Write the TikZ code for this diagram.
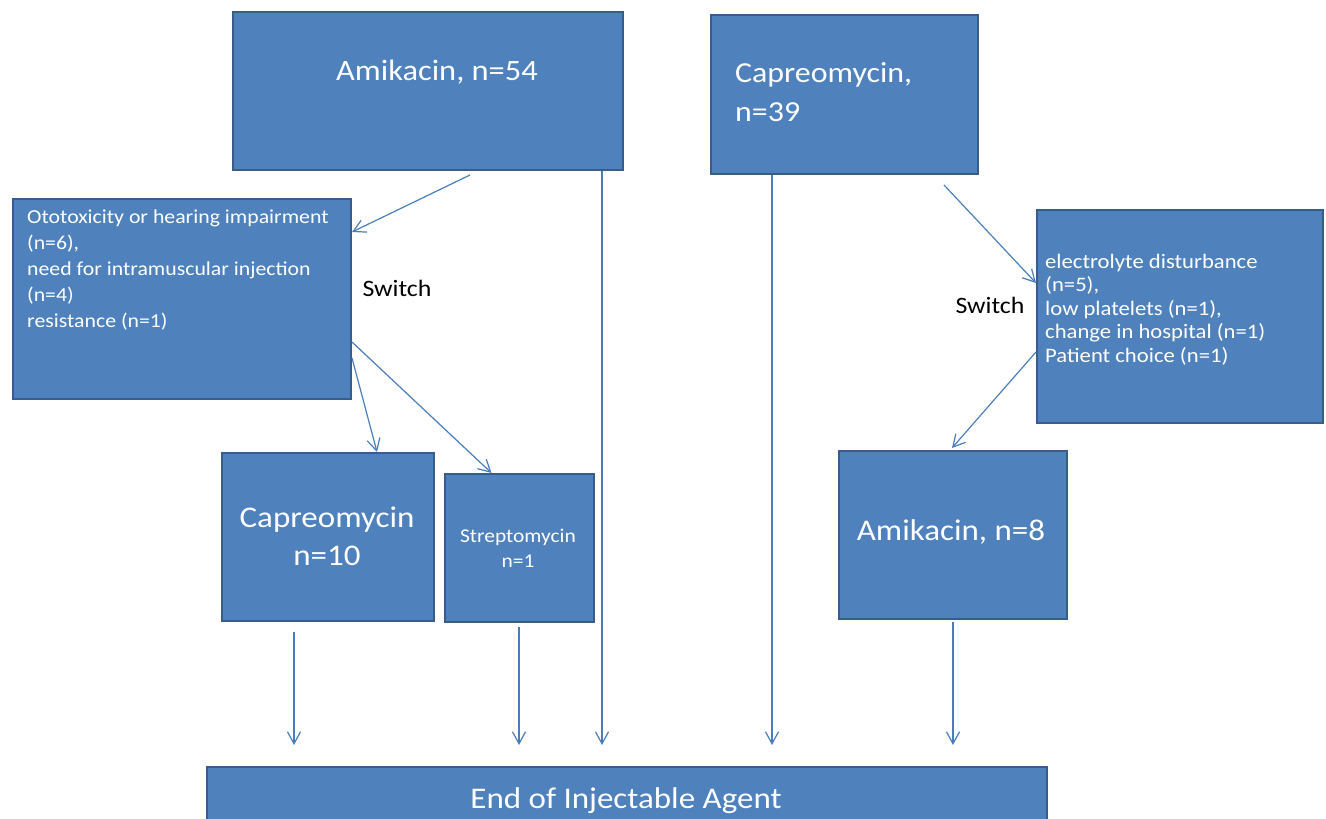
\documentclass[tikz,border=0pt]{standalone}
\usepackage{fontspec}
\setmainfont{Carlito}
\newfontfamily\wf[FakeStretch=1.1]{Carlito}
\usetikzlibrary{arrows.meta}
\definecolor{boxfill}{HTML}{4F81BD}
\definecolor{boxline}{HTML}{385D8A}
\definecolor{arrline}{HTML}{4A7EBB}
\newcommand{\tl}[1]{\begin{tabular}[t]{@{}l@{}}#1\end{tabular}}
\newcommand{\tc}[1]{\begin{tabular}[t]{@{}c@{}}#1\end{tabular}}
\tikzset{
  box/.style={draw=boxline, line width=2pt, fill=boxfill, inner sep=0pt, anchor=north west},
  txt/.style={text=white, inner sep=0pt},
  arr/.style={draw=arrline, line width=1.2pt, -{Straight Barb[length=12pt,width=13pt]}},
  sw/.style={text=black, inner sep=0pt, font=\wf\fontsize{23.5}{28}\selectfont}
}
\begin{document}
\begin{tikzpicture}[x=1pt,y=-1pt]
\useasboundingbox (0,0) rectangle (1326,819);
% boxes
\node[box, minimum width=390pt, minimum height=158pt] (a54) at (232,11) {};
\node[box, minimum width=267pt, minimum height=159pt] (c39) at (710,14) {};
\node[box, minimum width=338pt, minimum height=200pt] (lr) at (12,198) {};
\node[box, minimum width=286pt, minimum height=213pt] (rr) at (1036,209) {};
\node[box, minimum width=212pt, minimum height=168pt] (c10) at (221,452) {};
\node[box, minimum width=149pt, minimum height=148pt] (s1) at (444,473) {};
\node[box, minimum width=228pt, minimum height=168pt] (a8) at (838,450) {};
\node[box, minimum width=840pt, minimum height=70pt] (end) at (206,766) {};
% texts
\node[txt, anchor=base, font=\wf\fontsize{29.5}{35}\selectfont] (ta54) at (437,80) {Amikacin, n=54};
\node[txt, anchor=base west, font=\wf\fontsize{29}{39}\selectfont] (tc39) at (735,82) {\tl{Capreomycin,\\n=39}};
\node[txt, anchor=base west, font=\wf\fontsize{19.8}{26}\selectfont] (tlr) at (27,223)
  {\tl{Ototoxicity or hearing impairment\\(n=6),\\need for intramuscular injection\\(n=4)\\resistance (n=1)}};
\node[txt, anchor=base west, font=\wf\fontsize{20.6}{23.5}\selectfont] (trr) at (1045,268)
  {\tl{electrolyte disturbance\\(n=5),\\low platelets (n=1),\\change in hospital (n=1)\\Patient choice (n=1)}};
\node[txt, anchor=base, font=\wf\fontsize{30}{38}\selectfont] (tc10) at (327,527) {\tc{Capreomycin\\n=10}};
\node[txt, anchor=base, font=\wf\fontsize{19.5}{25}\selectfont] (ts1) at (518,542) {\tc{Streptomycin\\n=1}};
\node[txt, anchor=base, font=\wf\fontsize{30}{36}\selectfont] (ta8) at (951,540) {Amikacin, n=8};
\node[txt, anchor=base, font=\wf\fontsize{30}{36}\selectfont] (tend) at (626,808) {End of Injectable Agent};
\node[sw] (sw1) at (397,288) {Switch};
\node[sw] (sw2) at (990,305) {Switch};
% arrow end points
\coordinate (e1) at (294,745);
\coordinate (e2) at (519,745);
\coordinate (e3) at (602,745);
\coordinate (e4) at (772,745);
\coordinate (e5) at (953,745);
% connectors
\draw[arr] ([shift={(42pt,-4pt)}]a54.south) -- ([yshift=-34pt]lr.north east);
\draw[arr] (a54.south -| e3) -- (e3);
\draw[arr] (c39.south -| e4) -- (e4);
\draw[arr] ([shift={(99.5pt,-10pt)}]c39.south) -- ([yshift=-74pt]rr.north west);
\draw[arr] ([yshift=-143pt]rr.north west) -- ([shift={(-1pt,2pt)}]a8.north);
\draw[arr] ([yshift=-160pt]lr.north east) -- ([xshift=49pt]c10.north);
\draw[arr] ([yshift=-144pt]lr.north east) -- ([xshift=-28pt]s1.north);
\draw[arr] ([yshift=-10pt]c10.south -| e1) -- (e1);
\draw[arr] ([yshift=-4pt]s1.south -| e2) -- (e2);
\draw[arr] ([yshift=-2pt]a8.south -| e5) -- (e5);
\end{tikzpicture}
\end{document}
